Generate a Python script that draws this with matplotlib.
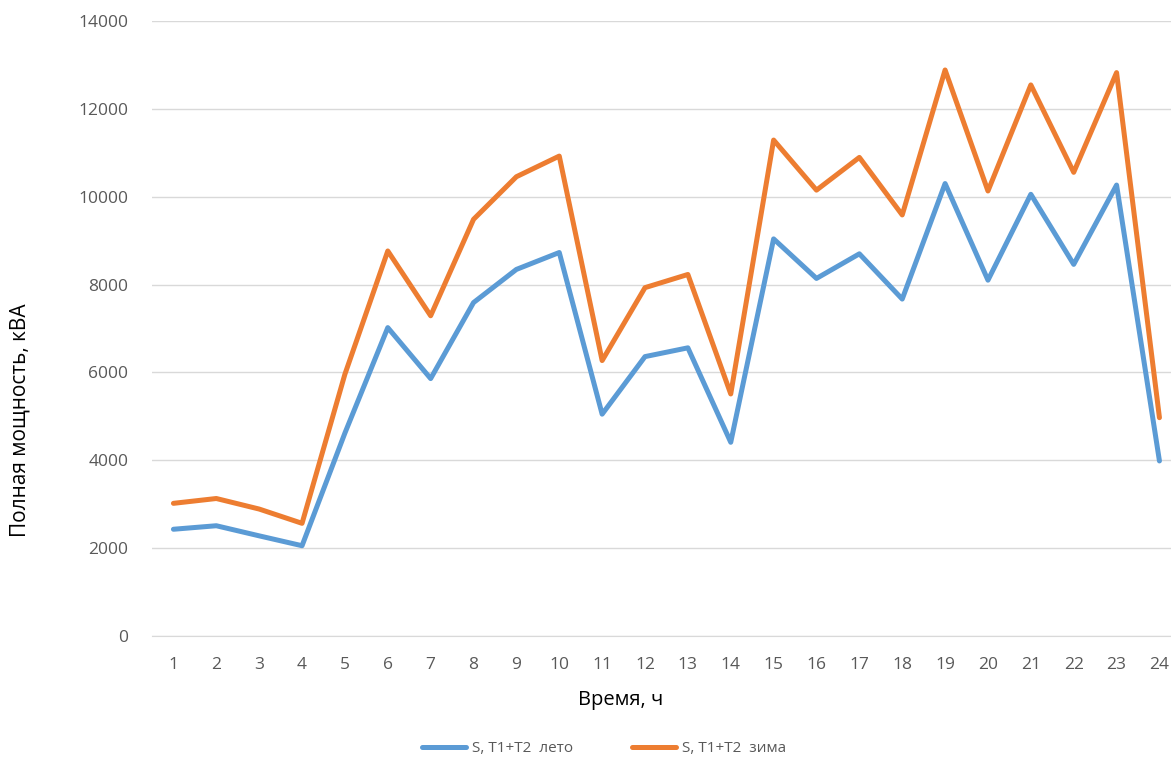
import matplotlib
matplotlib.use("Agg")
import matplotlib.pyplot as plt

plt.rcParams['font.family'] = ['Open Sans', 'DejaVu Sans']

hours = list(range(1, 25))
summer = [2430, 2510, 2280, 2055, 4620, 7020, 5860, 7590, 8345, 8730,
          5050, 6360, 6560, 4410, 9040, 8140, 8700, 7670, 10300, 8100,
          10055, 8460, 10265, 3985]
winter = [3020, 3130, 2890, 2565, 5960, 8765, 7290, 9485, 10455, 10925,
          6270, 7930, 8230, 5510, 11290, 10150, 10895, 9585, 12885, 10130,
          12545, 10555, 12825, 4970]
labels = ['S, T1+T2  лето', 'S, T1+T2  зима']

W, H = 1171, 758
fig = plt.figure(figsize=(W / 100, H / 100), dpi=100)
# plot area runs past the right edge, as in the original sheet
ax = fig.add_axes([152 / W, (H - 636) / H, 24 * 42.87 / W, 615 / H])

ax.plot(hours, summer, color='#5B9BD5', lw=3.6, solid_joinstyle='round',
        solid_capstyle='round', label=labels[0])
ax.plot(hours, winter, color='#ED7D31', lw=3.6, solid_joinstyle='round',
        solid_capstyle='round', label=labels[1])

ax.set_xlim(0.5, 24.5)
ax.set_ylim(0, 14000)
ax.set_xticks(hours)
ax.set_yticks(range(0, 14001, 2000))
ax.grid(axis='y', color='#D9D9D9', lw=1.0)
ax.set_axisbelow(True)
for s in ['top', 'right', 'left']:
    ax.spines[s].set_visible(False)
ax.spines['bottom'].set_color('#D9D9D9')
ax.tick_params(length=0, labelsize=12.5, labelcolor='#595959')
ax.tick_params(axis='y', pad=17)
ax.tick_params(axis='x', pad=15)

fig.text(621 / W, 1 - 700 / H, 'Время, ч', ha='center', va='center',
         fontsize=14.5, color='black')
fig.text(20 / W, 1 - 420 / H, 'Полная мощность, кВА', rotation=90,
         ha='center', va='center', fontsize=15, color='black')

fig.legend(loc='center', bbox_to_anchor=(604 / W, 1 - 749 / H), ncol=2,
           frameon=False, fontsize=11, labelcolor='#595959',
           handlelength=2.9, handletextpad=0.4, columnspacing=3.8)

fig.savefig('out.png', dpi=100)
